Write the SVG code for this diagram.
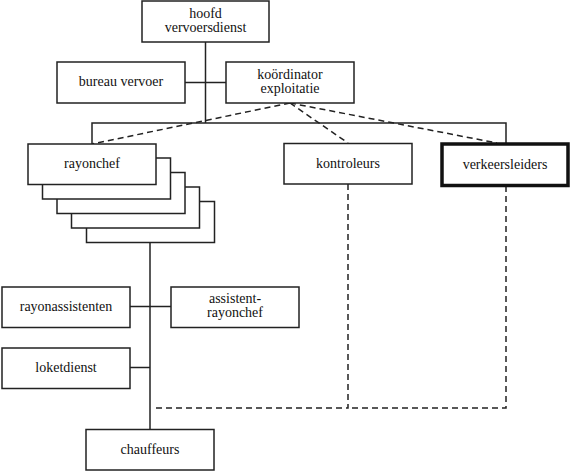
<svg xmlns="http://www.w3.org/2000/svg" width="572" height="471" viewBox="0 0 572 471">
<style>
.box{fill:#fff;stroke:#222;stroke-width:1.5}
.thick{fill:#fff;stroke:#111;stroke-width:3.5}
.ln{fill:none;stroke:#222;stroke-width:1.5}
.dash{fill:none;stroke:#222;stroke-width:1.5;stroke-dasharray:6 4}
.t{font-family:'Liberation Serif','DejaVu Serif',serif;font-size:14px;fill:#111;text-anchor:middle}
</style>
<rect width="572" height="471" fill="#fff"/>
<g id="connectors">
<line class="ln" x1="205.5" y1="42" x2="205.5" y2="123"/>
<line class="ln" x1="185" y1="82.5" x2="226" y2="82.5"/>
<polyline class="ln" points="92,144 92,123 506,123 506,143"/>
<line class="dash" x1="290" y1="103" x2="92" y2="144"/>
<line class="dash" x1="290" y1="103" x2="348" y2="143"/>
<line class="dash" x1="290" y1="103" x2="497" y2="143"/>
<line class="ln" x1="150" y1="242" x2="150" y2="429"/>
<line class="ln" x1="130" y1="306.5" x2="171" y2="306.5"/>
<line class="ln" x1="130" y1="367.5" x2="150" y2="367.5"/>
<polyline class="dash" points="348,184 348,408 156,408"/>
<polyline class="dash" points="506,186 506,408 348,408"/>
</g>
<g id="hoofd">
<rect class="box" x="142" y="1" width="127" height="41"/>
<text class="t" x="205.5" y="18">hoofd</text>
<text class="t" x="205.5" y="32">vervoersdienst</text>
</g>
<g id="bureau">
<rect class="box" x="57" y="62" width="128" height="41"/>
<text class="t" x="121" y="86">bureau vervoer</text>
</g>
<g id="koordinator">
<rect class="box" x="226" y="62" width="128" height="41"/>
<text class="t" x="290" y="79">koördinator</text>
<text class="t" x="290" y="93">exploitatie</text>
</g>
<g id="rayonchef">
<rect class="box" x="86.5" y="201.5" width="128" height="41"/>
<rect class="box" x="71.5" y="187" width="128" height="41"/>
<rect class="box" x="57" y="172.5" width="128" height="41"/>
<rect class="box" x="42.5" y="158" width="128" height="41"/>
<rect class="box" x="28" y="144" width="128" height="40.5"/>
<text class="t" x="92" y="168">rayonchef</text>
</g>
<g id="kontroleurs">
<rect class="box" x="284" y="143.5" width="128" height="40.5"/>
<text class="t" x="348" y="168">kontroleurs</text>
</g>
<g id="verkeersleiders">
<rect class="thick" x="442" y="144" width="126" height="41.5"/>
<text class="t" x="505" y="168.5">verkeersleiders</text>
</g>
<g id="rayonassistenten">
<rect class="box" x="2" y="287" width="128" height="40.5"/>
<text class="t" x="66" y="311">rayonassistenten</text>
</g>
<g id="assistent-rayonchef">
<rect class="box" x="171" y="287" width="128" height="40.5"/>
<text class="t" x="235" y="303">assistent-</text>
<text class="t" x="235" y="317">rayonchef</text>
</g>
<g id="loketdienst">
<rect class="box" x="2" y="348" width="128" height="40.5"/>
<text class="t" x="66" y="372">loketdienst</text>
</g>
<g id="chauffeurs">
<rect class="box" x="86" y="429.5" width="128" height="40.5"/>
<text class="t" x="150" y="454">chauffeurs</text>
</g>
</svg>
